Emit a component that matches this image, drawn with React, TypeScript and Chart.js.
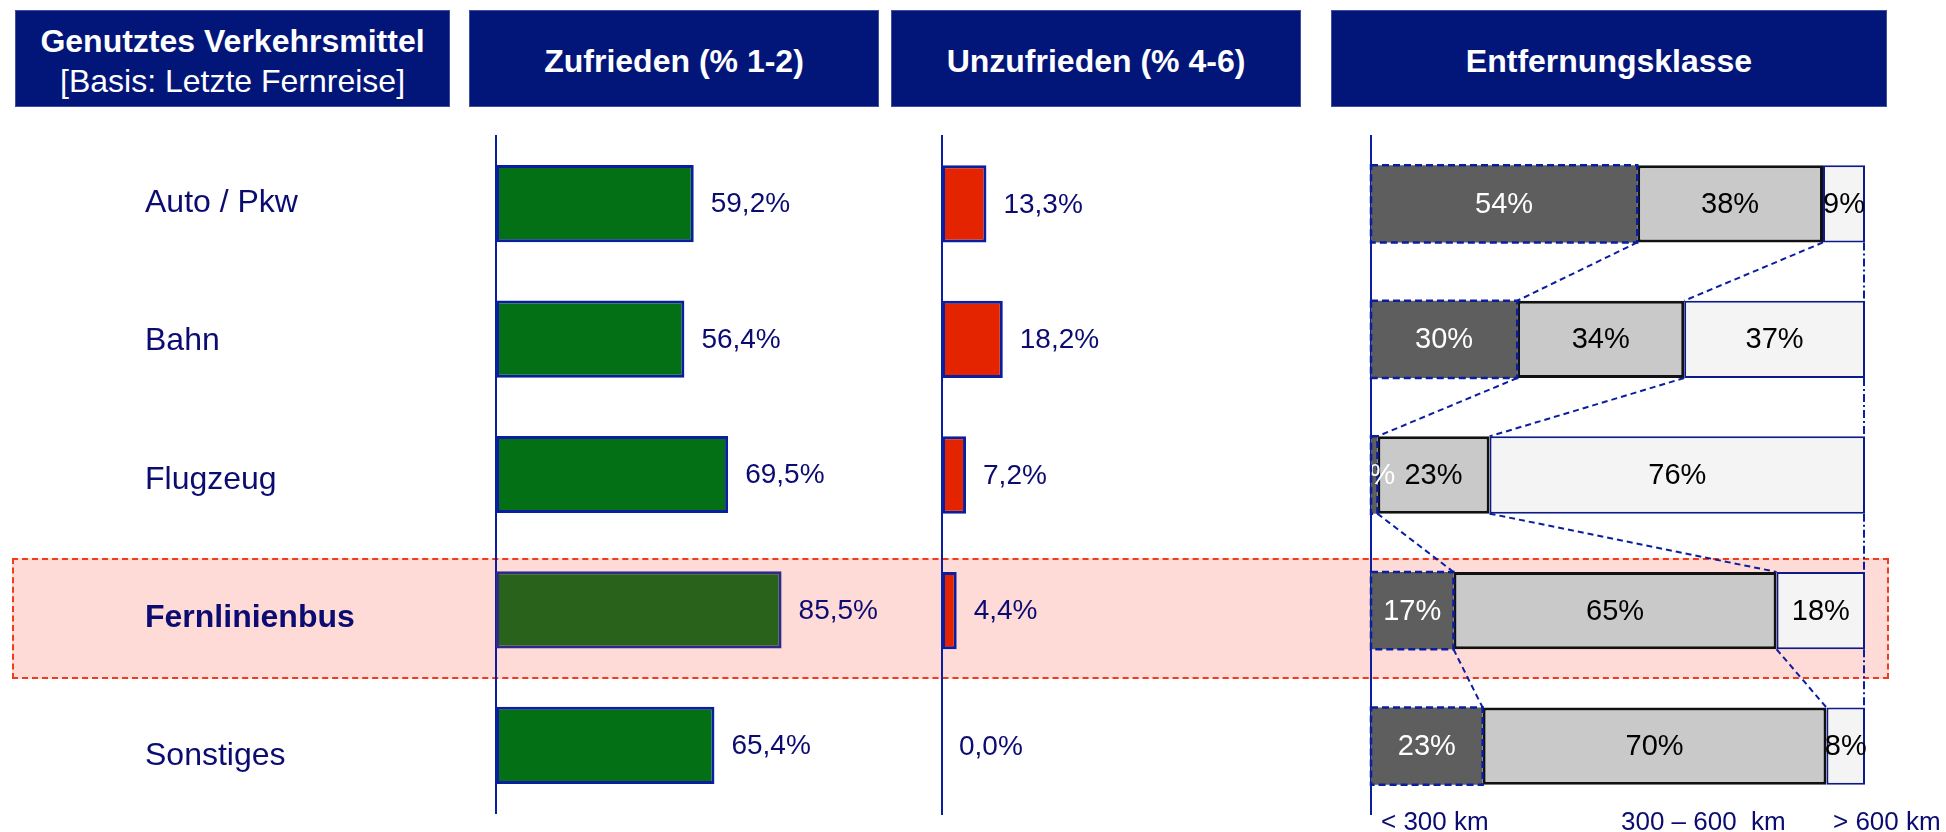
import React, { useEffect, useRef } from 'react';
import { Chart, registerables } from 'chart.js';

Chart.register(...registerables);

// ---------- data ----------
const categories = ['Auto / Pkw', 'Bahn', 'Flugzeug', 'Fernlinienbus', 'Sonstiges'];
const highlightIndex = 3;
const zufrieden = [59.2, 56.4, 69.5, 85.5, 65.4];
const unzufrieden = [13.3, 18.2, 7.2, 4.4, 0.0];
const distUnder300 = [53.9, 29.6, 1.3, 16.7, 22.6];
const dist300to600 = [37.6, 33.8, 22.7, 65.4, 69.6];
const distOver600 = [8.5, 36.6, 76.0, 17.9, 7.8];
const distClasses = ['< 300 km', '300 – 600  km', '> 600 km'];
const headerTitles = ['Genutztes Verkehrsmittel', 'Zufrieden (% 1-2)', 'Unzufrieden (% 4-6)', 'Entfernungsklasse'];
const headerSubtitle = '[Basis: Letzte Fernreise]';

// ---------- styles ----------
const FONT = '"Liberation Sans", Arial, Helvetica, sans-serif';
const NAVY = '#02167a';
const TEXT_NAVY = '#0b0b72';
const AXIS = '#0a1ea0';
const GREEN = '#037016';
const GREEN_HI = '#29621a';
const RED = '#e42300';
const DARK = '#5e5e5e';
const MID = '#c9c9c9';
const LIGHT = '#f4f4f4';
const PLOT_TOP = 136;
const PLOT_BOTTOM_PAD = 18;
const BAR_PCT = 0.57;
const LABEL_AXIS_MIN = -0.488;
const LABEL_AXIS_MAX = 4.411;
const W = 1946;
const H = 832;
const distLabelOffsets = [10, 250, 462];

Chart.defaults.font.family = FONT;

const valueLabelPlugin = {
  id: 'valueLabels',
  afterDatasetsDraw(chart: any) {
    const ctx = chart.ctx;
    const meta = chart.getDatasetMeta(0);
    const data = chart.data.datasets[0].data as number[];
    ctx.save();
    ctx.font = `28px ${FONT}`;
    ctx.fillStyle = TEXT_NAVY;
    ctx.textBaseline = 'middle';
    ctx.textAlign = 'left';
    meta.data.forEach((el: any, i: number) => {
      const { x, y } = el.getProps(['x', 'y'], true);
      ctx.fillText(data[i].toFixed(1).replace('.', ',') + '%', x + 17, y + 1);
    });
    ctx.restore();
  },
};

const distPlugin = {
  id: 'distDecor',
  afterDatasetsDraw(chart: any) {
    const ctx = chart.ctx;
    const area = chart.chartArea;
    const m0 = chart.getDatasetMeta(0).data;
    const m1 = chart.getDatasetMeta(1).data;
    const m2 = chart.getDatasetMeta(2).data;
    const p = (el: any) => el.getProps(['x', 'y', 'base', 'height'], true);
    ctx.save();
    // dashed outlines of the darkest segments
    ctx.strokeStyle = AXIS;
    ctx.lineWidth = 2.5;
    ctx.setLineDash([7, 4]);
    m0.forEach((el: any) => {
      const { x, y, base, height } = p(el);
      ctx.strokeRect(base, y - height / 2, x - base, height);
    });
    // connectors
    ctx.lineWidth = 2;
    ctx.setLineDash([6, 4]);
    for (let i = 0; i < m0.length - 1; i++) {
      [m0, m1].forEach((m) => {
        const a = p(m[i]);
        const b = p(m[i + 1]);
        ctx.beginPath();
        ctx.moveTo(a.x, a.y + a.height / 2);
        ctx.lineTo(b.x, b.y - b.height / 2);
        ctx.stroke();
      });
      const a = p(m2[i]);
      const b = p(m2[i + 1]);
      ctx.setLineDash([8, 3, 2, 3]);
      ctx.beginPath();
      ctx.moveTo(a.x - 1, a.y + a.height / 2);
      ctx.lineTo(b.x - 1, b.y - b.height / 2);
      ctx.stroke();
      ctx.setLineDash([6, 4]);
    }
    ctx.setLineDash([]);
    // segment labels, clipped to plot area
    ctx.beginPath();
    ctx.rect(area.left + 1, 0, area.right - area.left + 60, chart.height);
    ctx.clip();
    ctx.font = `29px ${FONT}`;
    ctx.textBaseline = 'middle';
    ctx.textAlign = 'center';
    [m0, m1, m2].forEach((m, di) => {
      const data = chart.data.datasets[di].data as number[];
      ctx.fillStyle = di === 0 ? '#ffffff' : '#000000';
      m.forEach((el: any, i: number) => {
        const { x, y, base } = p(el);
        ctx.fillText(Math.round(data[i]) + '%', (x + base) / 2, y + 1);
      });
    });
    ctx.restore();
    // distance class labels
    ctx.save();
    ctx.font = `26px ${FONT}`;
    ctx.fillStyle = TEXT_NAVY;
    ctx.textAlign = 'left';
    ctx.textBaseline = 'alphabetic';
    distClasses.forEach((t, i) => {
      ctx.fillText(t, area.left + distLabelOffsets[i], 830);
    });
    ctx.restore();
  },
};

function baseOptions(axisWidth: number, padLeft: number, padRight: number): any {
  return {
    indexAxis: 'y',
    responsive: false,
    animation: false,
    layout: { padding: { left: padLeft, right: padRight, top: PLOT_TOP, bottom: PLOT_BOTTOM_PAD } },
    plugins: { legend: { display: false }, tooltip: { enabled: false }, title: { display: false } },
    scales: {
      x: { display: false, min: 0, max: 100, stacked: true },
      y: {
        stacked: true,
        weight: 0,
        grid: { display: false },
        border: { display: true, color: AXIS, width: 2 },
        afterFit: (scale: any) => {
          scale.width = axisWidth;
        },
        ticks: { display: false },
      },
    },
  };
}

export default function App() {
  const refA = useRef<HTMLCanvasElement>(null);
  const refB = useRef<HTMLCanvasElement>(null);
  const refC = useRef<HTMLCanvasElement>(null);

  useEffect(() => {
    const charts: Chart[] = [];
    const optsA = baseOptions(0, 145, 905 - 496 - 334);
    optsA.scales.yLabels = {
      type: 'linear',
      position: 'left',
      weight: 1,
      reverse: true,
      offset: false,
      min: LABEL_AXIS_MIN,
      max: LABEL_AXIS_MAX,
      grid: { display: false, offset: false },
      border: { display: false },
      afterBuildTicks: (scale: any) => {
        scale.ticks = categories.map((_, i) => ({ value: i }));
      },
      afterFit: (scale: any) => {
        scale.width = 351;
      },
      ticks: {
        crossAlign: 'far',
        color: TEXT_NAVY,
        callback: (v: number) => categories[Math.round(v)],
        font: (c: any) => ({
          size: 32,
          family: FONT,
          lineHeight: 1,
          weight: c.tick && c.tick.value === highlightIndex ? 'bold' : 'normal',
        }),
      },
    };
    charts.push(
      new Chart(refA.current!, {
        type: 'bar',
        data: {
          labels: categories,
          datasets: [
            {
              label: 'Zufrieden',
              data: zufrieden,
              backgroundColor: categories.map((_, i) => (i === highlightIndex ? GREEN_HI : GREEN)),
              borderColor: categories.map((_, i) => (i === highlightIndex ? '#2d2a8c' : AXIS)),
              borderWidth: 3,
              borderSkipped: false,
              barPercentage: BAR_PCT,
              categoryPercentage: 1,
            },
          ],
        },
        options: optsA,
        plugins: [valueLabelPlugin],
      } as any)
    );
    charts.push(
      new Chart(refB.current!, {
        type: 'bar',
        data: {
          labels: categories,
          datasets: [
            {
              label: 'Unzufrieden',
              data: unzufrieden,
              backgroundColor: RED,
              borderColor: AXIS,
              borderWidth: 3,
              borderSkipped: false,
              barPercentage: BAR_PCT,
              categoryPercentage: 1,
            },
          ],
        },
        options: baseOptions(37, 0, 435 - 37 - 334),
        plugins: [valueLabelPlugin],
      } as any)
    );
    charts.push(
      new Chart(refC.current!, {
        type: 'bar',
        data: {
          labels: categories,
          datasets: [
            {
              label: distClasses[0],
              data: distUnder300,
              backgroundColor: DARK,
              borderWidth: 0,
              barPercentage: BAR_PCT,
              categoryPercentage: 1,
            },
            {
              label: distClasses[1],
              data: dist300to600,
              backgroundColor: MID,
              borderColor: '#111111',
              borderWidth: 3,
              borderSkipped: false,
              barPercentage: BAR_PCT,
              categoryPercentage: 1,
            },
            {
              label: distClasses[2],
              data: distOver600,
              backgroundColor: LIGHT,
              borderColor: '#0d1a8a',
              borderWidth: 2,
              borderSkipped: false,
              barPercentage: BAR_PCT,
              categoryPercentage: 1,
            },
          ],
        },
        options: baseOptions(31, 0, 606 - 31 - 494),
        plugins: [distPlugin],
      } as any)
    );
    return () => charts.forEach((c) => c.destroy());
  }, []);

  const headerBox = (left: number, width: number): React.CSSProperties => ({
    position: 'absolute',
    left,
    top: 10,
    width,
    height: 97,
    boxSizing: 'border-box',
    background: NAVY,
    border: '1px solid #3f4f9c',
    color: '#ffffff',
    fontFamily: FONT,
    fontSize: 32,
    fontWeight: 'bold',
    display: 'flex',
    flexDirection: 'column',
    alignItems: 'center',
    justifyContent: 'center',
    lineHeight: '40px',
    paddingTop: 4,
    textAlign: 'center',
  });

  return (
    <div style={{ position: 'absolute', left: 0, top: 0, width: W, height: H, overflow: 'hidden', background: '#ffffff' }}>
      <div
        style={{
          position: 'absolute',
          left: 12,
          top: 558,
          width: 1877,
          height: 121,
          boxSizing: 'border-box',
          background: '#fedbd6',
          border: '2px dashed #f23a1c',
        }}
      />
      <div style={headerBox(15, 435)}>
        <div>{headerTitles[0]}</div>
        <div style={{ fontWeight: 'normal' }}>{headerSubtitle}</div>
      </div>
      <div style={headerBox(469, 410)}>{headerTitles[1]}</div>
      <div style={headerBox(891, 410)}>{headerTitles[2]}</div>
      <div style={headerBox(1331, 556)}>{headerTitles[3]}</div>
      <canvas ref={refA} width={905} height={H} style={{ position: 'absolute', left: 0, top: 0 }} />
      <canvas ref={refB} width={435} height={H} style={{ position: 'absolute', left: 905, top: 0 }} />
      <canvas ref={refC} width={606} height={H} style={{ position: 'absolute', left: 1340, top: 0 }} />
    </div>
  );
}
